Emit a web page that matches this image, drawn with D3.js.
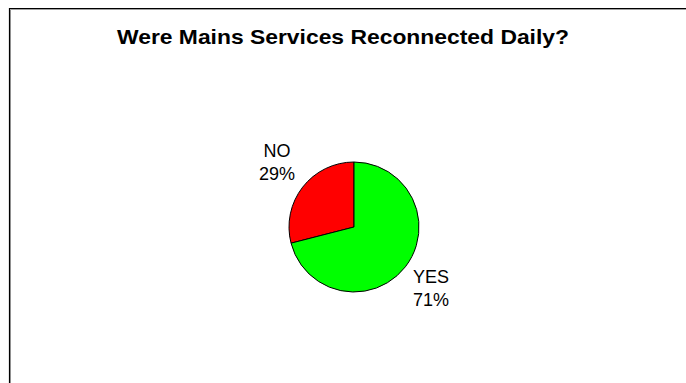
<!DOCTYPE html>
<html>
<head>
<meta charset="utf-8">
<script src="https://cdn.jsdelivr.net/npm/d3@7"></script>
<style>
  html, body { margin: 0; padding: 0; background: #fff; }
  svg { display: block; }
</style>
</head>
<body>
<div id="chart"></div>
<script>
// Survey answers and their shares (percent)
const categories = ["NO", "YES"];
const values = [29, 71];
const colors = ["#FF0000", "#00FF00"];
const title = "Were Mains Services Reconnected Daily?";

const width = 686, height = 383;
const svg = d3.select("#chart").append("svg")
  .attr("width", width)
  .attr("height", height);

// Chart area frame (runs off the right and bottom edges)
svg.append("path")
  .attr("d", `M10.5,${height} V9.5 H${width}`)
  .attr("fill", "none")
  .attr("stroke", "#a0a0a0")
  .attr("stroke-width", 1);
svg.append("path")
  .attr("d", `M9.5,${height} V8.5 H${width}`)
  .attr("fill", "none")
  .attr("stroke", "#000")
  .attr("stroke-width", 1.2);

svg.append("text")
  .attr("x", 343)
  .attr("y", 44)
  .attr("text-anchor", "middle")
  .attr("font-family", "Liberation Sans, Arial, sans-serif")
  .attr("font-weight", "bold")
  .attr("font-size", 21)
  .attr("textLength", 452)
  .attr("lengthAdjust", "spacingAndGlyphs")
  .text(title);

const cx = 354, cy = 227, r = 65;
const data = categories.map((c, i) => ({ cat: c, value: values[i], color: colors[i] }));

// First slice runs counter-clockwise from 12 o'clock
const pie = d3.pie()
  .sort(null)
  .value(d => d.value)
  .startAngle(0)
  .endAngle(-2 * Math.PI);
const arcs = pie(data);
const arc = d3.arc().innerRadius(0).outerRadius(r);

const g = svg.append("g").attr("transform", `translate(${cx},${cy})`);
g.selectAll("path.slice")
  .data(arcs)
  .join("path")
  .attr("class", "slice")
  .attr("d", arc)
  .attr("fill", d => d.data.color)
  .attr("stroke", "#000")
  .attr("stroke-width", 1)
  .attr("stroke-linejoin", "round");

// Outside labels: category on top, percentage below
const labelArc = d3.arc().innerRadius(r * 1.5).outerRadius(r * 1.5);
const labels = g.selectAll("text.lbl")
  .data(arcs)
  .join("text")
  .attr("class", "lbl")
  .attr("text-anchor", "middle")
  .attr("font-family", "Liberation Sans, Arial, sans-serif")
  .attr("font-size", 18)
  .attr("fill", "#000")
  .attr("transform", d => {
    const [x, y] = labelArc.centroid(d);
    return `translate(${x},${y * 1.05 - 1})`;
  });
labels.append("tspan").attr("x", 0).attr("y", -6).text(d => d.data.cat);
labels.append("tspan").attr("x", 0).attr("y", 17).text(d => d.data.value + "%");
</script>
</body>
</html>
